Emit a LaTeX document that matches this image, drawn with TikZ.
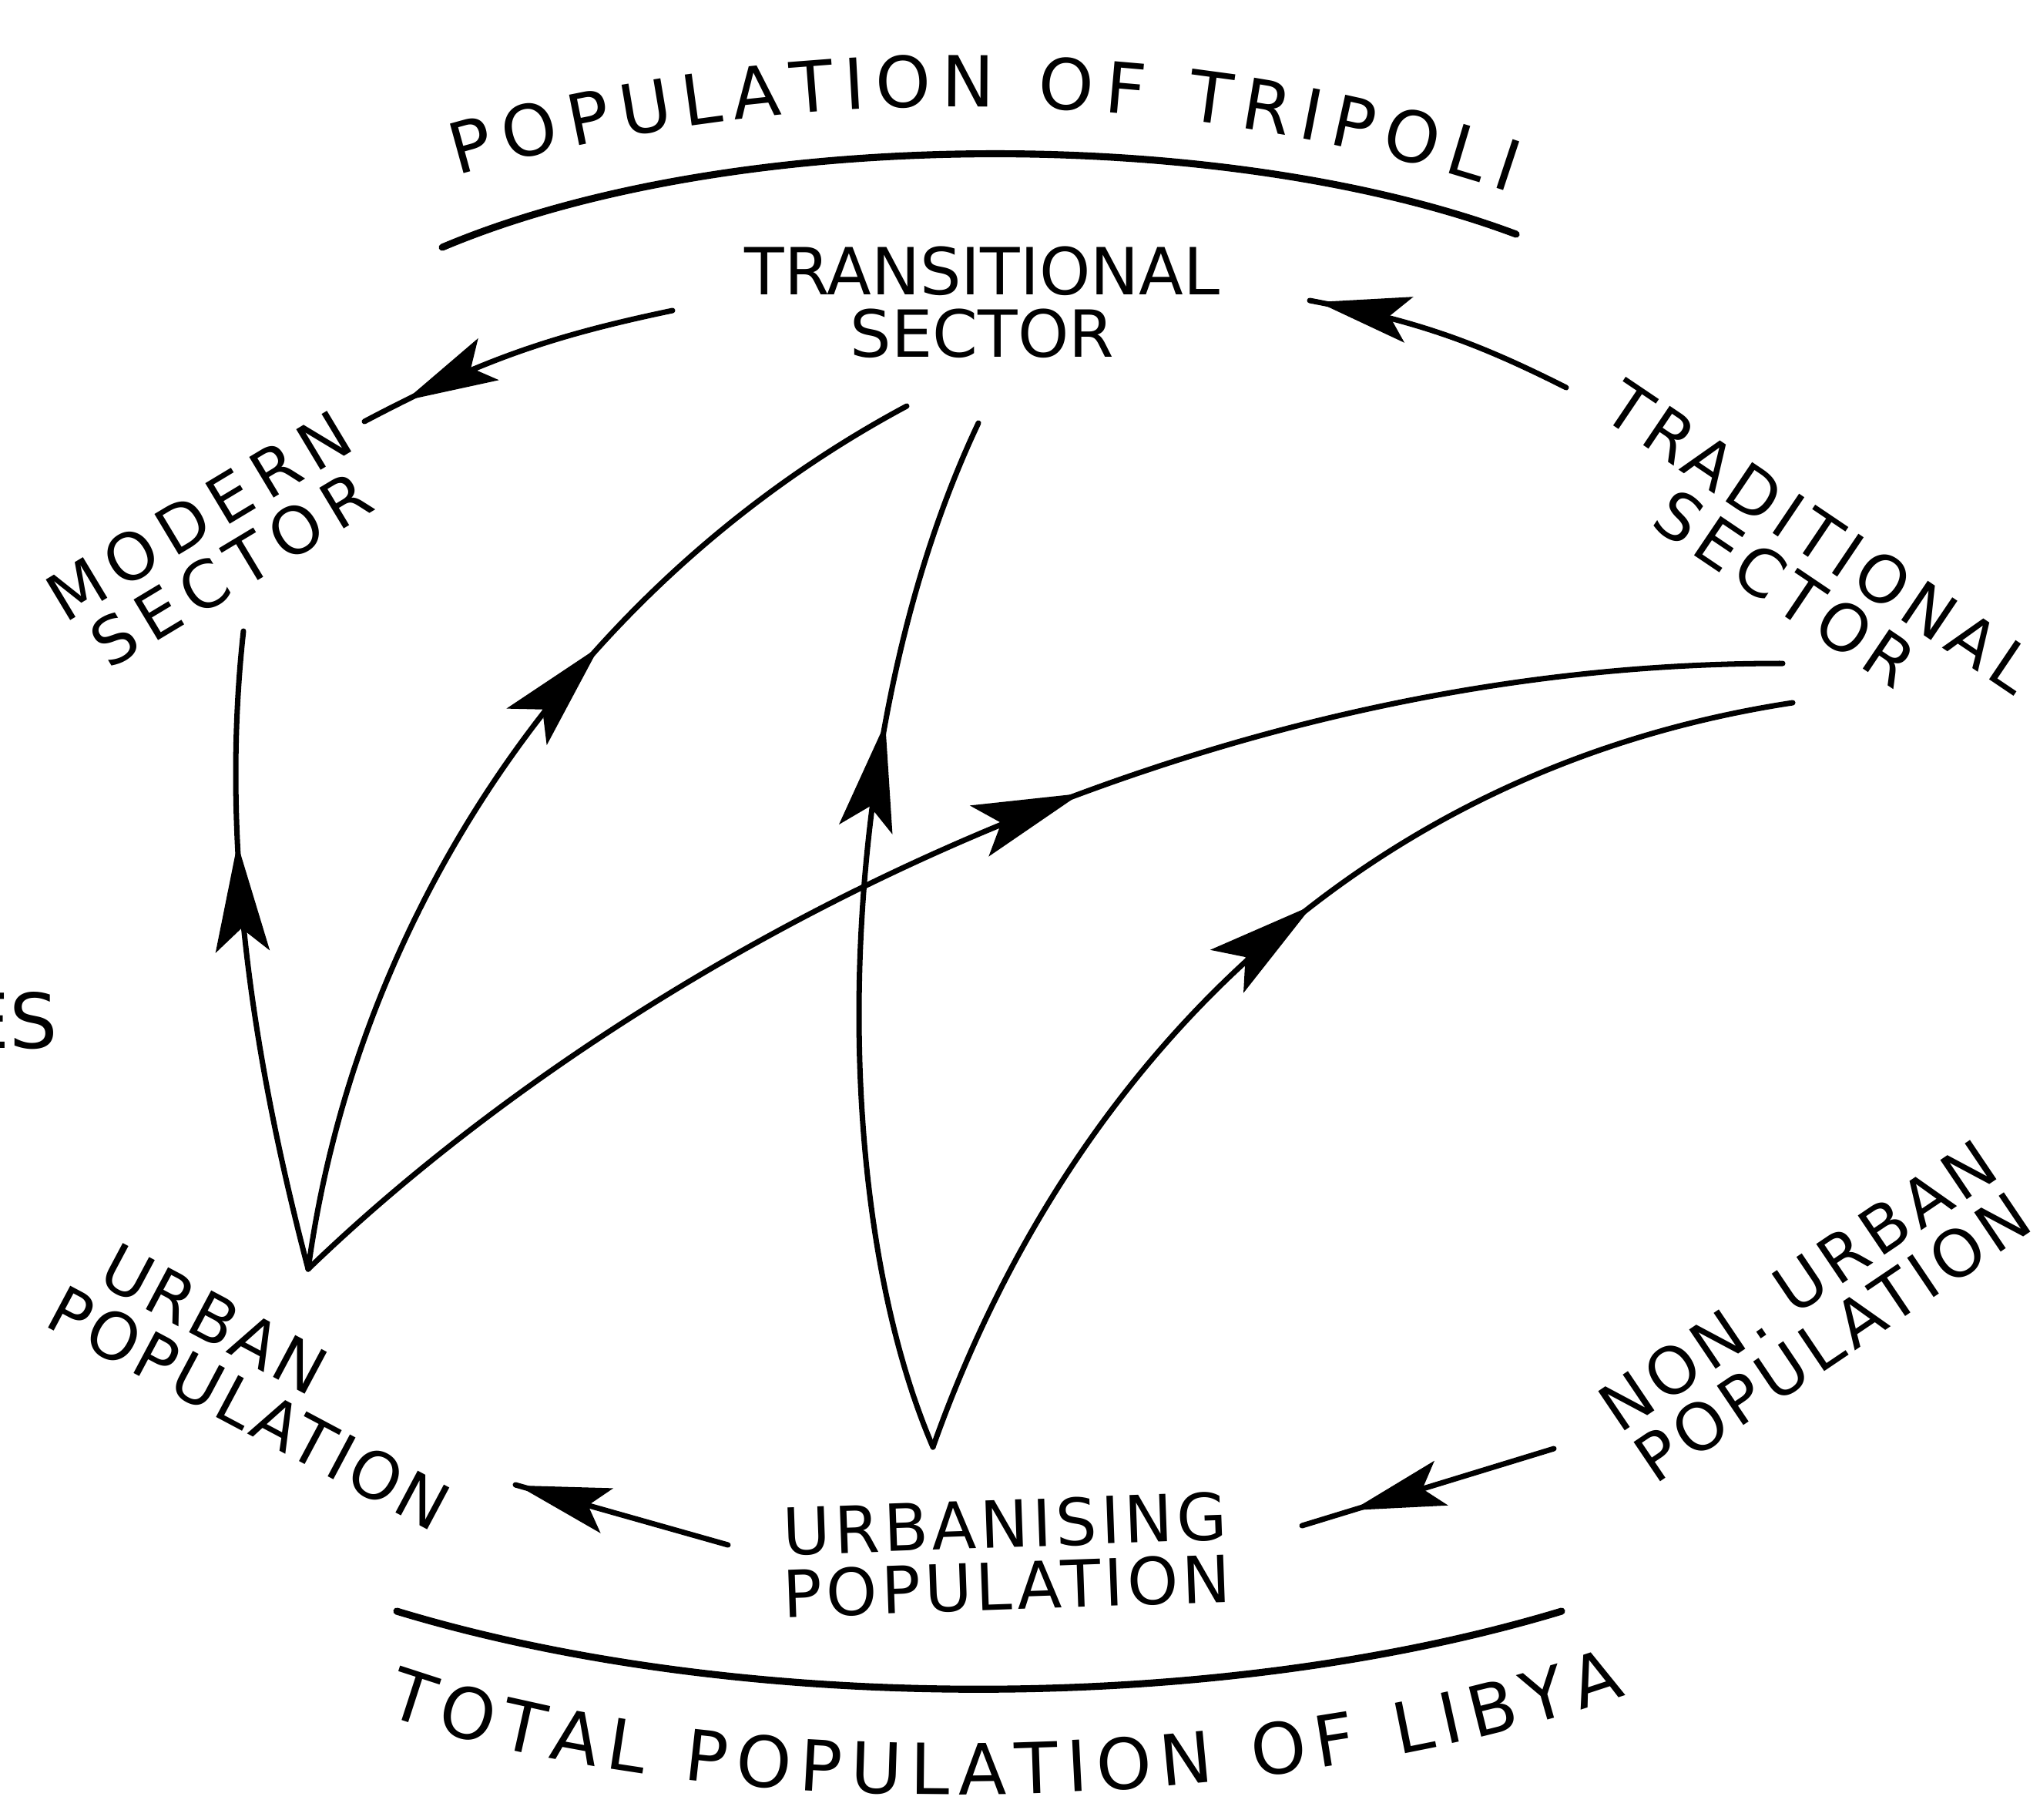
\documentclass[tikz,border=0pt]{standalone}
\usepackage{fontspec}
\setmainfont{DejaVu Sans}
\usetikzlibrary{arrows.meta,decorations.markings,decorations.text}

\newcommand\labfont{\fontsize{24}{23}\selectfont}
\newcommand\arcfont{\fontsize{26}{30}\selectfont}

\begin{document}
\begin{tikzpicture}[
    sector/.style={align=center, inner sep=0pt, font=\labfont},
    flow/.style={line width=2pt, line cap=round},
    rim/.style={line width=2.6pt, line cap=round},
    midarrow/.style={postaction={decorate}, decoration={markings, mark=at position #1 with {\arrow{Stealth[length=14mm, width=7mm, inset=3mm]}}}},
    shortarrow/.style={postaction={decorate}, decoration={markings, mark=at position #1 with {\arrow{Stealth[length=12mm, width=6mm, inset=2.5mm]}}}}
]
\useasboundingbox (0,0) rectangle (26.48,-23.61);

\node[sector] (transitional) at (12.75,-3.92) {TRANSITIONAL\\SECTOR};
\node[sector, rotate=31, font=\labfont\addfontfeature{LetterSpace=15}] (modern) at (2.79,-7.04) {MODERN\\SECTOR};
\node[sector, rotate=-34, font=\labfont\addfontfeature{LetterSpace=10}] (traditional) at (23.40,-7.30) {TRADITIONAL\\SECTOR};
\node[sector, rotate=-28, align=left, font=\labfont\addfontfeature{LetterSpace=5}] (urban) at (3.42,-17.92) {\hspace{3.5mm}URBAN\\POPULATION};
\node[sector, rotate=2, font=\labfont\addfontfeature{LetterSpace=6}] (urbanising) at (13.06,-20.18) {URBANISING\\POPULATION};
\node[sector, rotate=34, font=\labfont\addfontfeature{LetterSpace=8}] (nonurban) at (23.56,-17.02) {NON. URBAN\\POPULATION};
\node[anchor=base east, inner sep=0pt, font=\fontsize{28}{32}\selectfont] (es) at (0.76,-13.60) {ES};

\draw[rim] (5.74,-3.21) .. controls (9.5,-1.62) and (15.9,-1.62) .. (19.68,-3.04);
\draw[rim] (5.15,-20.91) .. controls (9.6,-22.26) and (15.8,-22.26) .. (20.27,-20.91);
\path[decorate, decoration={text along path, text align={fit to path},
    text={|\arcfont|POPULATION OF TRIPOLI}}]
    (5.94,-2.28) .. controls (10.2,-1.05) and (15.3,-1.05) .. (19.59,-2.50);
\path[decorate, decoration={text along path, text align={fit to path},
    text={|\arcfont|TOTAL POPULATION OF LIBYA}}]
    (5.0,-22.25) .. controls (9.3,-23.75) and (16.5,-23.6) .. (21.1,-22.0);

\coordinate (urb-apex) at (4.00,-16.47);
\coordinate (urbz-apex) at (12.11,-18.78);
\coordinate (mod-in) at (3.16,-8.19);
\coordinate (mod-in2) at (4.73,-5.47);
\coordinate (tra-in1) at (11.77,-5.27);
\coordinate (tra-in2) at (12.70,-5.49);
\coordinate (tra-in3) at (17.00,-3.90);
\coordinate (tra-out) at (8.73,-4.03);
\coordinate (trd-in1) at (23.14,-8.61);
\coordinate (trd-in2) at (23.27,-9.12);
\coordinate (trd-out) at (20.33,-5.03);
\coordinate (urb-in) at (6.69,-19.27);
\coordinate (urbz-out) at (9.45,-20.05);
\coordinate (urbz-in) at (16.90,-19.80);
\coordinate (non-out) at (20.17,-18.80);

\draw[flow, shortarrow=0.86] (tra-out) to[bend right=8] (mod-in2);
\draw[flow, shortarrow=0.97] (trd-out) to[bend right=8] (tra-in3);
\draw[flow, shortarrow=0.99] (urbz-out) -- (urb-in);
\draw[flow, shortarrow=0.80] (non-out) -- (urbz-in);

\draw[flow, midarrow=0.67] (urb-apex) .. controls (3.3,-13.8) and (2.85,-11.0) .. (mod-in);
\draw[flow, midarrow=0.64] (urb-apex) .. controls (4.65,-11.7) and (7.6,-7.5) .. (tra-in1);
\draw[flow, midarrow=0.56] (urb-apex) .. controls (7.8,-12.8) and (15,-8.6) .. (trd-in1);
\draw[flow, midarrow=0.70] (urbz-apex) .. controls (10.7,-15.5) and (10.8,-9.5) .. (tra-in2);
\draw[flow, midarrow=0.56] (urbz-apex) .. controls (13.8,-14.0) and (17.5,-10.0) .. (trd-in2);
\end{tikzpicture}
\end{document}
